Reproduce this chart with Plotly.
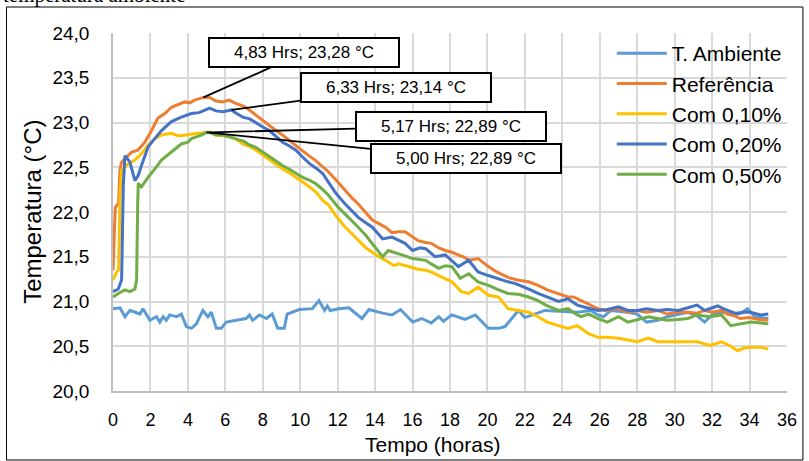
import plotly.graph_objects as go

# ---- data ----
amb_t = [0, 0.37, 0.64, 0.9, 1.2, 1.44, 1.6, 1.97, 2.32, 2.5, 2.68, 2.85, 3.03, 3.39, 3.65, 3.92, 4.19, 4.45, 4.8, 5.07,
         5.25, 5.52, 5.78, 6.05, 6.58, 7.11, 7.29, 7.46, 7.82, 8.2, 8.5, 8.8, 9.15, 9.3, 9.95, 10.65, 11.0, 11.3, 11.45, 11.6,
         12.07, 12.6, 13.3, 13.67, 14.4, 14.9, 15.36, 16.0, 16.5, 17.0, 17.4, 17.65, 18.1, 18.8, 19.35, 20.05, 20.6, 20.94, 21.3, 21.65,
         22.0, 22.5, 23.07, 23.8, 24.8, 25.5, 25.9, 26.2, 26.6, 27.5, 28.0, 28.5, 29.1, 29.6, 30.2, 30.7, 31.2, 31.6, 32.0, 32.6,
         33.0, 33.6, 33.9, 34.3, 35.0]
amb_T = [20.92, 20.93, 20.83, 20.90, 20.88, 20.86, 20.92, 20.79, 20.83, 20.77, 20.83, 20.79, 20.85, 20.83, 20.86, 20.72, 20.70, 20.75, 20.90, 20.83,
         20.88, 20.70, 20.70, 20.77, 20.79, 20.81, 20.85, 20.79, 20.85, 20.81, 20.86, 20.70, 20.70, 20.86, 20.91, 20.92, 21.01, 20.90, 20.95, 20.90,
         20.92, 20.93, 20.81, 20.91, 20.87, 20.85, 20.91, 20.77, 20.81, 20.76, 20.83, 20.78, 20.85, 20.80, 20.85, 20.70, 20.70, 20.72, 20.81, 20.90,
         20.82, 20.86, 20.90, 20.89, 20.88, 20.90, 20.85, 20.83, 20.90, 20.88, 20.86, 20.77, 20.79, 20.83, 20.86, 20.88, 20.84, 20.77, 20.85, 20.88,
         20.86, 20.88, 20.92, 20.83, 20.81]

ref_t = [0, 0.08, 0.12, 0.3, 0.37, 0.45, 0.64, 1.0, 1.33, 1.7, 2.06, 2.4, 2.77, 3.12, 3.5, 3.83, 4.1, 4.36, 4.83, 5.16,
         5.5, 5.87, 6.2, 6.58, 7.0, 7.29, 7.65, 8.0, 8.35, 8.7, 9.05, 9.4, 9.75, 10.1, 10.45, 10.8, 11.15, 11.5, 11.9, 12.4,
         12.75, 13.1, 13.5, 13.85, 14.2, 14.56, 14.9, 15.27, 15.6, 16.0, 16.3, 16.7, 17.0, 17.4, 17.75, 18.1, 18.45, 18.8, 19.0, 19.5,
         20.05, 20.5, 21.1, 21.6, 22.2, 22.7, 23.2, 23.8, 24.3, 24.6, 25.0, 25.4, 25.9, 26.3, 27.0, 27.5, 28.0, 28.5, 29.1, 29.6,
         30.2, 30.7, 31.2, 31.6, 32.0, 32.5, 32.8, 33.2, 33.5, 34.0, 34.5, 35.0]
ref_T = [21.35, 22.05, 22.05, 22.10, 22.47, 22.55, 22.60, 22.67, 22.69, 22.78, 22.91, 23.05, 23.10, 23.17, 23.20, 23.23, 23.22, 23.25, 23.28, 23.28,
         23.24, 23.23, 23.25, 23.21, 23.18, 23.14, 23.08, 23.02, 22.97, 22.91, 22.86, 22.80, 22.74, 22.69, 22.63, 22.58, 22.52, 22.45, 22.36, 22.24,
         22.16, 22.09, 22.00, 21.91, 21.87, 21.83, 21.77, 21.78, 21.78, 21.72, 21.68, 21.66, 21.65, 21.60, 21.57, 21.55, 21.52, 21.49, 21.46, 21.48,
         21.39, 21.33, 21.27, 21.24, 21.22, 21.18, 21.13, 21.09, 21.05, 21.05, 21.01, 20.97, 20.92, 20.90, 20.92, 20.88, 20.90, 20.88, 20.90, 20.86,
         20.88, 20.88, 20.87, 20.90, 20.88, 20.90, 20.86, 20.84, 20.81, 20.82, 20.80, 20.79]

c10_t = [0, 0.2, 0.3, 0.38, 0.46, 0.82, 1.17, 1.52, 1.88, 2.23, 2.59, 3.12, 3.5, 3.83, 4.2, 4.54, 5.17, 5.5, 6.0, 6.4,
         6.93, 7.3, 7.65, 8.0, 8.35, 8.7, 9.06, 9.4, 9.77, 10.1, 10.5, 10.85, 11.2, 11.5, 11.9, 12.4, 12.75, 13.1, 13.5, 13.85,
         14.2, 14.56, 15.0, 15.27, 15.6, 16.0, 16.3, 16.7, 17.0, 17.4, 17.8, 18.1, 18.6, 19.0, 19.5, 20.05, 20.6, 21.1, 21.65, 22.2,
         22.7, 23.2, 23.8, 24.3, 24.8, 25.4, 25.9, 26.4, 27.0, 27.5, 28.0, 28.6, 29.1, 29.6, 30.2, 30.7, 31.2, 31.9, 32.5, 33.0,
         33.35, 33.7, 34.06, 34.6, 35.0]
c10_T = [21.24, 21.33, 21.35, 22.20, 22.47, 22.54, 22.58, 22.65, 22.75, 22.82, 22.86, 22.88, 22.85, 22.86, 22.87, 22.88, 22.89, 22.86, 22.85, 22.84,
         22.76, 22.73, 22.69, 22.64, 22.58, 22.53, 22.48, 22.44, 22.39, 22.34, 22.28, 22.22, 22.13, 22.08, 21.96, 21.83, 21.76, 21.68, 21.60, 21.55,
         21.50, 21.46, 21.40, 21.42, 21.40, 21.37, 21.36, 21.35, 21.33, 21.29, 21.25, 21.22, 21.11, 21.09, 21.16, 21.07, 21.05, 20.92, 20.90, 20.88,
         20.83, 20.77, 20.73, 20.70, 20.73, 20.64, 20.60, 20.60, 20.59, 20.57, 20.55, 20.59, 20.55, 20.55, 20.55, 20.55, 20.55, 20.51, 20.55, 20.50,
         20.45, 20.48, 20.49, 20.49, 20.47]

c20_t = [0, 0.28, 0.46, 0.55, 0.64, 0.9, 1.17, 1.35, 1.52, 1.88, 2.23, 2.59, 3.12, 3.65, 4.19, 4.6, 5.16, 5.5, 5.87, 6.33,
         6.6, 6.93, 7.3, 7.65, 8.0, 8.35, 8.7, 9.06, 9.4, 9.77, 10.1, 10.5, 10.85, 11.2, 11.55, 11.9, 12.4, 12.75, 13.1, 13.5,
         13.85, 14.4, 14.9, 15.3, 15.6, 16.0, 16.4, 16.7, 17.2, 17.75, 18.1, 18.45, 19.0, 19.5, 20.05, 20.6, 21.1, 21.5, 22.0, 22.3,
         22.7, 23.2, 23.8, 24.3, 24.8, 25.3, 25.9, 26.4, 27.0, 27.5, 28.0, 28.5, 29.1, 29.6, 30.2, 30.7, 31.2, 31.6, 31.9, 32.3,
         32.6, 33.0, 33.35, 33.7, 34.06, 34.6, 35.0]
c20_T = [21.11, 21.14, 21.24, 22.30, 22.63, 22.56, 22.35, 22.41, 22.52, 22.73, 22.82, 22.91, 23.01, 23.06, 23.10, 23.11, 23.16, 23.13, 23.12, 23.14,
         23.10, 23.06, 23.04, 22.99, 22.95, 22.91, 22.85, 22.78, 22.74, 22.69, 22.62, 22.54, 22.49, 22.43, 22.32, 22.21, 22.09, 22.01, 21.94, 21.88,
         21.83, 21.70, 21.72, 21.68, 21.65, 21.57, 21.60, 21.59, 21.50, 21.52, 21.45, 21.39, 21.46, 21.33, 21.29, 21.25, 21.22, 21.20, 21.16, 21.13,
         21.09, 21.05, 21.00, 21.03, 20.96, 20.93, 20.90, 20.91, 20.94, 20.90, 20.90, 20.92, 20.90, 20.91, 20.90, 20.93, 20.96, 20.90, 20.92, 20.95,
         20.92, 20.89, 20.86, 20.88, 20.88, 20.85, 20.86]

c50_t = [0, 0.28, 0.64, 0.9, 1.17, 1.26, 1.32, 1.35, 1.52, 1.88, 2.23, 2.59, 3.12, 3.65, 4.0, 4.19, 4.45, 4.72, 5.0, 5.16,
         5.5, 5.87, 6.2, 6.58, 7.0, 7.29, 7.65, 8.0, 8.35, 8.7, 9.05, 9.4, 9.75, 10.1, 10.45, 10.8, 11.15, 11.5, 12.0, 12.4,
         12.75, 13.1, 13.5, 13.85, 14.1, 14.4, 14.7, 15.0, 15.27, 15.6, 16.0, 16.3, 16.7, 17.0, 17.4, 17.75, 18.1, 18.55, 19.0, 19.5,
         20.05, 20.6, 21.1, 21.65, 22.2, 22.7, 23.2, 23.8, 24.3, 24.8, 25.0, 25.4, 25.9, 26.4, 27.0, 27.5, 28.0, 28.6, 29.1, 29.6,
         30.2, 30.7, 31.2, 31.9, 32.5, 33.0, 33.5, 34.1, 34.6, 35.0]
c50_T = [21.05, 21.09, 21.13, 21.11, 21.14, 21.24, 22.10, 22.32, 22.28, 22.39, 22.48, 22.58, 22.67, 22.76, 22.78, 22.82, 22.84, 22.86, 22.89, 22.89,
         22.86, 22.86, 22.84, 22.82, 22.79, 22.75, 22.72, 22.67, 22.62, 22.58, 22.52, 22.48, 22.43, 22.39, 22.36, 22.32, 22.26, 22.19, 22.06, 21.98,
         21.91, 21.83, 21.74, 21.65, 21.58, 21.50, 21.57, 21.55, 21.54, 21.51, 21.48, 21.47, 21.46, 21.42, 21.37, 21.40, 21.39, 21.26, 21.31, 21.22,
         21.18, 21.13, 21.09, 21.08, 21.05, 21.01, 20.95, 20.90, 20.92, 20.85, 20.83, 20.86, 20.81, 20.77, 20.83, 20.77, 20.80, 20.83, 20.81, 20.79,
         20.80, 20.81, 20.85, 20.83, 20.85, 20.73, 20.75, 20.77, 20.76, 20.75]

series_names = ["T. Ambiente", "Referência", "Com 0,10%", "Com 0,20%", "Com 0,50%"]
series_colors = ["#5B9BD5", "#ED7D31", "#FFC000", "#4472C4", "#70AD47"]
series_t = [amb_t, ref_t, c10_t, c20_t, c50_t]
series_T = [amb_T, ref_T, c10_T, c20_T, c50_T]

callout_text = ["4,83 Hrs; 23,28 °C", "6,33 Hrs; 23,14 °C", "5,17 Hrs; 22,89 °C", "5,00 Hrs; 22,89 °C"]
callout_x = [4.83, 6.33, 5.17, 5.00]
callout_y = [23.28, 23.14, 22.89, 22.89]

x_ticks = list(range(0, 37, 2))
y_ticks = [20.0, 20.5, 21.0, 21.5, 22.0, 22.5, 23.0, 23.5, 24.0]

for a, b in zip(series_t, series_T):
    assert len(a) == len(b), (len(a), len(b))

# ---- figure ----
FONT = "Liberation Sans"
W, H = 809, 461
ML, MR, MT, MB = 113, 19, 33, 70
PW, PH = W - ML - MR, H - MT - MB

def px_x(p):
    return (p - ML) / PW

def px_y(p):
    return (H - MB - p) / PH

fig = go.Figure()
for i, (name, col, t, T) in enumerate(zip(series_names, series_colors, series_t, series_T)):
    fig.add_trace(go.Scatter(x=t, y=T, mode="lines", name=name,
                             line=dict(color=col, width=3),
                             legendgroup=str(i)))

# callout positions (pixel offsets of the box centres from the points)
offsets = [(101, -45), (164, -22), (241, -6), (259, 26)]
for txt, x, y, (ax, ay) in zip(callout_text, callout_x, callout_y, offsets):
    fig.add_annotation(x=x, y=y, xref="x", yref="y", text=txt, showarrow=True,
                       ax=ax, ay=ay, arrowhead=0, arrowwidth=1.8, arrowcolor="black",
                       standoff=0, bgcolor="white", bordercolor="black", borderwidth=2,
                       width=186, height=25, font=dict(family=FONT, size=17, color="black"))

# axis titles as annotations
fig.add_annotation(text="Tempo (horas)", xref="paper", yref="paper",
                   x=px_x(434), y=px_y(444), xanchor="center", yanchor="middle", showarrow=False,
                   font=dict(family=FONT, size=21, color="black"))
fig.add_annotation(text="Temperatura (°C)", xref="paper", yref="paper", textangle=-90,
                   x=px_x(32), y=px_y(211.5), xanchor="center", yanchor="middle", showarrow=False,
                   font=dict(family=FONT, size=24, color="black"))
# cut-off caption of the document above
fig.add_annotation(text="temperatura ambiente", xref="paper", yref="paper",
                   x=px_x(1), y=px_y(9), xanchor="left", yanchor="bottom", showarrow=False,
                   font=dict(family="Liberation Serif", size=21, color="black"))

# outer frame
fig.add_shape(type="rect", xref="paper", yref="paper",
              x0=px_x(6), x1=px_x(806), y0=px_y(460), y1=px_y(7),
              line=dict(color="black", width=1), fillcolor="rgba(0,0,0,0)", layer="below")

fig.update_layout(
    width=W, height=H, autosize=False,
    margin=dict(l=ML, r=MR, t=MT, b=MB, pad=0),
    paper_bgcolor="white", plot_bgcolor="white",
    separators=",.",
    showlegend=True,
    legend=dict(x=px_x(614), y=px_y(33), xanchor="left", yanchor="top",
                bgcolor="rgba(0,0,0,0)", borderwidth=0,
                font=dict(family=FONT, size=21, color="black"),
                traceorder="grouped", tracegroupgap=0, itemwidth=50),
    xaxis=dict(range=[0, 36], tickvals=x_ticks, showgrid=True, gridcolor="#D9D9D9", gridwidth=1.5,
               zeroline=False, showline=True, linecolor="#BFBFBF", linewidth=1.5, ticks="",
               tickfont=dict(family=FONT, size=18, color="black"), ticklabelstandoff=12),
    yaxis=dict(range=[20, 24], tickvals=y_ticks, tickformat=".1f", showgrid=True, gridcolor="#D9D9D9",
               gridwidth=1.5, zeroline=False, showline=True, linecolor="#BFBFBF", linewidth=1.5, ticks="",
               tickfont=dict(family=FONT, size=19, color="black"), ticklabelstandoff=18),
)

fig.write_html("out.html")
